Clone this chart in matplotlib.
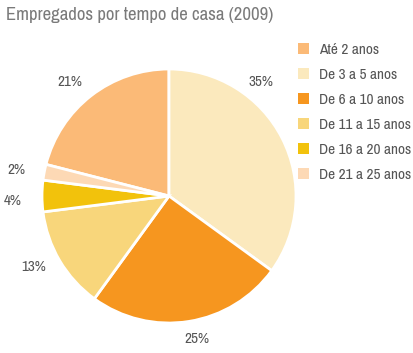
import numpy as np
import matplotlib.pyplot as plt
from matplotlib.patches import Patch

plt.rcParams['font.family'] = ['Archivo Narrow', 'DejaVu Sans']

categories = ['Até 2 anos', 'De 3 a 5 anos', 'De 6 a 10 anos',
              'De 11 a 15 anos', 'De 16 a 20 anos', 'De 21 a 25 anos']
values = [21, 35, 25, 13, 4, 2]
colors = ['#fbba77', '#fbe9bd', '#f6961f', '#f8d67b', '#f2c20c', '#fdd9b5']

W, H = 414, 353
fig = plt.figure(figsize=(W / 100, H / 100), dpi=100)

# pie centre (169, 196) px, radius 127 px
cx, cy, r = 169, 196, 127
ax = fig.add_axes([(cx - r) / W, (H - cy - r) / H, 2 * r / W, 2 * r / H])

start = 90 + values[0] * 3.6
wedges, texts, autotexts = ax.pie(
    values, colors=colors, startangle=start, counterclock=False,
    autopct='%d%%', pctdistance=1.18,
    wedgeprops=dict(edgecolor='white', linewidth=2))

# the 35% label sits higher up than the slice middle
shift = [3, 24, 2, -3, 2, 1]
dist = [1.19, 1.15, 1.15, 1.2, 1.23, 1.22]
for w, t, s, d in zip(wedges, autotexts, shift, dist):
    a = np.deg2rad((w.theta1 + w.theta2) / 2 + s)
    t.set_position((d * np.cos(a), d * np.sin(a)))
    t.set_color('#555555')
    t.set_fontsize(11)
    t.set_fontweight('bold')
    t.set_clip_on(False)
ax.set_xlim(-1, 1)
ax.set_ylim(-1, 1)
ax.set_aspect('equal')

fig.text(6 / W, 1 - 15 / H, 'Empregados por tempo de casa (2009)',
         fontsize=13.5, color='#7a7a7a', va='center', ha='left')

handles = [Patch(facecolor=c, edgecolor='none') for c in colors]
leg = fig.legend(handles, categories, loc='upper left',
                 bbox_to_anchor=(298 / W, 1 - 43 / H), frameon=False,
                 handlelength=0.75, handleheight=0.75, handletextpad=0.6,
                 labelspacing=0.72, borderaxespad=0, borderpad=0,
                 prop=dict(size=11, weight='bold'))
for t in leg.get_texts():
    t.set_color('#555555')

fig.savefig('out.png', dpi=100)
